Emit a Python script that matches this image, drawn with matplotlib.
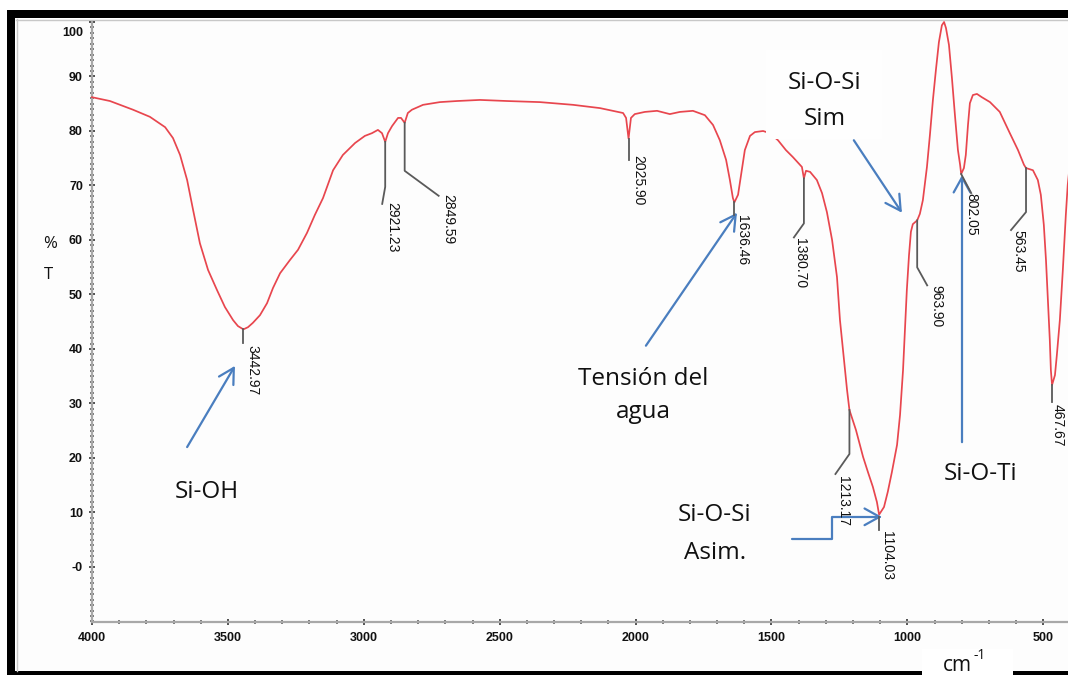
import numpy as np
import matplotlib
matplotlib.use("Agg")
import matplotlib.pyplot as plt
from matplotlib.patches import Rectangle, FancyArrowPatch
from matplotlib.path import Path
from matplotlib.lines import Line2D
from matplotlib.transforms import ScaledTranslation, IdentityTransform

# ---- FTIR spectrum (wavenumber in cm-1, transmittance in %) ----
wavenumber = [
    4000, 3934, 3849, 3787, 3731, 3702, 3676, 3650, 3628, 3603, 3573, 3540,
    3511, 3481, 3463, 3442.97, 3426, 3408, 3382, 3356, 3334, 3308, 3272, 3242,
    3209, 3180, 3150, 3113, 3077, 3032, 2996, 2970, 2948, 2933, 2921.23, 2911,
    2896, 2874, 2863, 2849.59, 2838, 2823, 2782, 2720, 2657, 2573, 2473, 2352,
    2230, 2131, 2046, 2035, 2025.90, 2017, 2003, 1966, 1921, 1874, 1837, 1789,
    1745, 1715, 1690, 1667, 1653, 1642, 1636.46, 1623, 1612, 1598, 1579, 1561,
    1531, 1506, 1476, 1447, 1421, 1395, 1388, 1380.70, 1373, 1358, 1333, 1314,
    1296, 1277, 1259, 1248, 1233, 1222, 1213.17, 1189, 1163, 1145, 1127, 1112,
    1104.03, 1086, 1072, 1057, 1038, 1027, 1016, 1009, 1002, 994, 987, 980,
    963.90, 954, 943, 928, 917, 906, 895, 884, 873, 865, 858, 847, 836, 825,
    814, 806, 802.05, 792, 785, 777, 770, 759, 744, 726, 696, 660, 623, 593,
    571, 563.45, 538, 520, 509, 498, 490, 483, 476, 472, 467.67, 457, 450,
    439, 428, 417, 410, 400,
]
transmittance = [
    86.2, 85.5, 83.9, 82.6, 80.7, 78.7, 75.6, 71.0, 65.5, 59.4, 54.5, 50.8,
    47.7, 45.3, 44.2, 43.6, 44.0, 44.8, 46.2, 48.4, 51.2, 53.9, 56.3, 58.2,
    61.3, 64.6, 67.7, 72.8, 75.6, 77.8, 79.1, 79.6, 80.2, 79.6, 78.0, 79.6,
    80.9, 82.4, 82.4, 81.5, 83.3, 83.9, 84.8, 85.3, 85.5, 85.7, 85.5, 85.3,
    84.8, 84.2, 83.3, 82.4, 78.6, 82.4, 83.1, 83.5, 83.7, 83.1, 83.5, 83.7,
    82.9, 81.1, 78.3, 74.7, 71.0, 67.7, 66.9, 68.3, 71.9, 76.5, 79.1, 79.8,
    80.0, 79.6, 78.3, 76.5, 75.2, 73.8, 73.4, 71.3, 72.7, 72.5, 71.0, 68.6,
    65.1, 60.0, 53.2, 45.3, 38.0, 32.5, 28.8, 25.1, 20.2, 17.4, 14.7, 11.9,
    9.6, 11.0, 13.8, 17.4, 22.4, 27.9, 36.1, 43.5, 50.8, 57.2, 61.5, 62.9,
    63.6, 64.8, 67.3, 73.4, 79.3, 85.7, 91.2, 96.3, 99.4, 100.0, 98.9, 95.8,
    89.7, 82.9, 76.5, 73.8, 72.1, 73.2, 75.6, 81.1, 85.1, 86.6, 86.8, 86.2,
    85.3, 83.5, 79.6, 76.5, 73.8, 73.2, 72.8, 71.0, 68.3, 62.8, 56.3, 49.0,
    41.7, 36.1, 33.4, 35.2, 38.9, 45.3, 54.5, 64.6, 70.1, 75.0,
]

# ---- labelled peaks ----
peak_wn = [3442.97, 2921.23, 2849.59, 2025.90, 1636.46, 1380.70,
           1213.17, 1104.03, 963.90, 802.05, 563.45, 467.67]
peak_labels = ["3442.97", "2921.23", "2849.59", "2025.90", "1636.46",
               "1380.70", "1213.17", "1104.03", "963.90", "802.05",
               "563.45", "467.67"]

# ---- axis ticks ----
x_major = [4000, 3500, 3000, 2500, 2000, 1500, 1000, 500]
y_major = [100, 90, 80, 70, 60, 50, 40, 30, 20, 10, 0]
y_major_labels = ["100", "90", "80", "70", "60", "50", "40", "30", "20",
                  "10", "-0"]

W, H = 1068, 675
DPI = 100
fig = plt.figure(figsize=(W / DPI, H / DPI), dpi=DPI, facecolor="white")


def fx(px):
    return px / W


def fy(py):
    return 1 - py / H


# page frame: inner panel, thick black borders, thin grey inner rule
fig.add_artist(Rectangle((fx(16), fy(671)), fx(1068 - 16), 652 / H,
                         transform=fig.transFigure, facecolor="#fdfdfd",
                         edgecolor="none", zorder=-5))
fig.add_artist(Rectangle((fx(7), fy(18)), fx(1068 - 7), 8 / H,
                         transform=fig.transFigure, facecolor="black",
                         edgecolor="none", zorder=-4))
fig.add_artist(Rectangle((fx(7), fy(675)), fx(8), 665 / H,
                         transform=fig.transFigure, facecolor="black",
                         edgecolor="none", zorder=-4))
fig.add_artist(Rectangle((fx(7), fy(675)), fx(1068 - 7), 4 / H,
                         transform=fig.transFigure, facecolor="black",
                         edgecolor="none", zorder=-4))
fig.add_artist(Line2D([fx(16.5), fx(16.5)], [fy(19), fy(671)],
                      transform=fig.transFigure, color="#c8c8c8", lw=1,
                      zorder=-3))
fig.add_artist(Line2D([fx(16), fx(1068)], [fy(19.5), fy(19.5)],
                      transform=fig.transFigure, color="#c8c8c8", lw=1,
                      zorder=-3))

ax = fig.add_axes([fx(92), fy(622), fx(1068 - 92), 600 / H])
ax.set_facecolor("none")
ax.set_xlim(4000, 409)
ax.set_ylim(-10.1, 100)

for side in ("top", "right"):
    ax.spines[side].set_visible(False)
for side in ("left", "bottom"):
    ax.spines[side].set_color("#a8a8a8")
    ax.spines[side].set_linewidth(1.6)

ax.set_xticks(x_major)
ax.set_xticklabels([str(v) for v in x_major])
ax.set_xticks(np.arange(4000, 400, -100), minor=True)
ax.set_yticks(y_major)
ax.set_yticklabels(y_major_labels)
ax.set_yticks(np.arange(-10, 101, 1), minor=True)

tick_font = dict(family="Liberation Sans", weight="bold", size=9)
ax.tick_params(axis="both", which="major", direction="inout", length=5,
               width=1.2, color="#333333", labelcolor="#111111")
ax.tick_params(axis="both", which="minor", direction="inout", length=2.2,
               width=1.1, color="#555555")
ax.tick_params(axis="x", which="major", pad=5)
ax.tick_params(axis="y", which="major", pad=4)
for lab in ax.get_xticklabels() + ax.get_yticklabels():
    lab.set_fontproperties(matplotlib.font_manager.FontProperties(**tick_font))
for lab in ax.get_yticklabels():
    if lab.get_text() == "100":
        lab.set_transform(lab.get_transform() +
                          ScaledTranslation(0, -7 / 72, fig.dpi_scale_trans))

# spectrum
ax.plot(wavenumber, transmittance, color="#e8464e", lw=1.25, zorder=3,
        clip_on=False)

# peak markers with leader lines and rotated values
wn_arr = np.array(wavenumber)[::-1]
t_arr = np.array(transmittance)[::-1]
peak_t = np.interp(peak_wn, wn_arr, t_arr)

# leader shapes (pixel offsets from the peak, y downward) and text anchors
leaders = [
    ([(0, 0), (0, 14)], (9, 16)),
    ([(0, 0), (0, 45), (-3, 62)], (7, 60)),
    ([(0, 0), (0, 48), (34, 73)], (44, 71)),
    ([(0, 0), (0, 21)], (9.5, 16)),
    ([(0, 0), (0, 13)], (8, 13)),
    ([(0, 0), (0, 45), (-10, 59)], (-4, 60)),
    ([(0, 0), (0, 44), (-14, 64)], (-6.5, 66)),
    ([(0, 2), (0, 15)], (8, 16)),
    ([(0, 0), (0, 47), (10, 65)], (19, 65)),
    ([(0, 0), (10, 19)], (10, 19)),
    ([(0, 0), (0, 44), (-15, 62)], (-8, 62)),
    ([(0, 0), (0, 17)], (6, 19)),
]
for wn, t, lab, (shape, (tx, ty)) in zip(peak_wn, peak_t, peak_labels,
                                        leaders):
    x0, y0 = ax.transData.transform((wn, t))
    xs = [x0 + dx for dx, dy in shape]
    ys = [y0 - dy for dx, dy in shape]
    fig.add_artist(Line2D(xs, ys, transform=IdentityTransform(),
                          color="#5a5a5a", lw=1.3, zorder=4))
    fig.text(x0 + tx, y0 - ty, lab, transform=IdentityTransform(),
             rotation=-90, ha="center", va="top", fontsize=10,
             family="Liberation Sans", color="#111111", zorder=5)

# white box behind the "Sim" note hides part of the trace
ax.add_patch(Rectangle((1520, 78.5), 1093 - 1520, 16.4, facecolor="#fefefe",
                       edgecolor="none", zorder=3.5))

# band assignments
note_font = dict(family="Open Sans", size=17.5, color="#111111", zorder=6)
ax.text(3577, 12.7, "Si-OH", ha="center", va="baseline", **note_font)
ax.text(1973, 33.4, "Tensión del", ha="center", va="baseline", **note_font)
ax.text(1973, 27.3, "agua", ha="center", va="baseline", **note_font)
ax.text(1708, 8.4, "Si-O-Si", ha="center", va="baseline", **note_font)
ax.text(1708, 1.5, "Asim.", ha="center", va="baseline", **note_font)
ax.text(1303, 87.7, "Si-O-Si", ha="center", va="baseline", **note_font)
ax.text(1303, 81.1, "Sim", ha="center", va="baseline", **note_font)
ax.text(729, 16.0, "Si-O-Ti", ha="center", va="baseline", **note_font)

blue = "#4a7ebf"
arrow_kw = dict(arrowstyle="->,head_length=0.9,head_width=0.5",
                mutation_scale=12, color=blue, lw=1.6, zorder=7,
                shrinkA=0, shrinkB=0, clip_on=False)
for tail, head in [((3650, 22.0), (3474, 36.9)),
                   ((1962, 40.6), (1627, 65.0)),
                   ((1197, 78.3), (1020, 65.0)),
                   ((799, 22.9), (799, 71.9))]:
    ax.add_patch(FancyArrowPatch(tail, head, **arrow_kw))
elbow = Path([(1425, 5.1), (1278, 5.1), (1278, 9.2), (1094, 9.2)],
             [Path.MOVETO, Path.LINETO, Path.LINETO, Path.LINETO])
ax.add_patch(FancyArrowPatch(path=elbow, **arrow_kw))

# axis titles
fig.text(fx(50), fy(248), "%", ha="center", va="baseline",
         family="Open Sans", size=12, color="#111111")
fig.text(fx(48), fy(279), "T", ha="center", va="baseline",
         family="Open Sans", size=12, color="#111111")
fig.add_artist(Rectangle((fx(922), fy(675)), fx(1013 - 922), 26 / H,
                         transform=fig.transFigure, facecolor="white",
                         edgecolor="none", zorder=2))
fig.text(fx(957), fy(671), "cm", ha="center", va="baseline",
         family="Open Sans", size=15, color="#111111", zorder=3)
fig.text(fx(980), fy(659), "-1", ha="center", va="baseline",
         family="Open Sans", size=10, color="#111111", zorder=3)

fig.savefig("out.png", dpi=DPI, facecolor="white")
